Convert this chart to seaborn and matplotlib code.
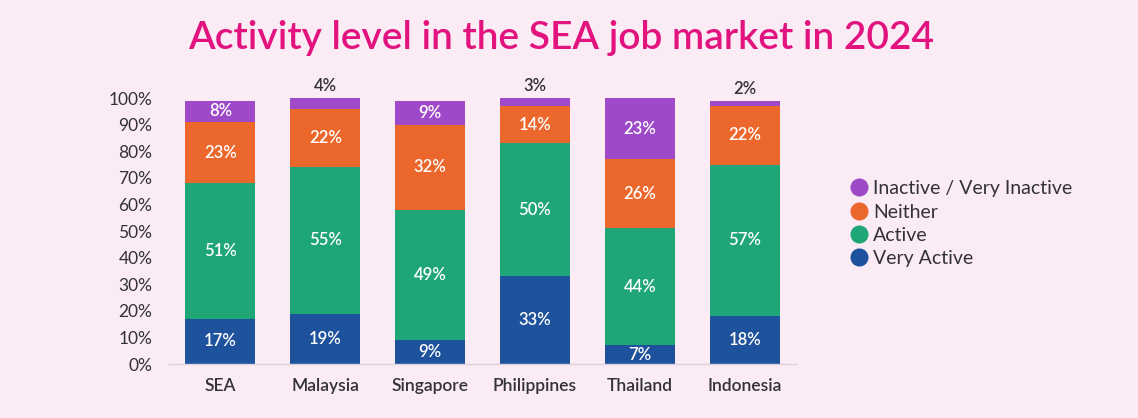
import matplotlib
matplotlib.use("Agg")
import matplotlib.pyplot as plt
from matplotlib.lines import Line2D
import seaborn as sns
import pandas as pd
import numpy as np

countries = ["SEA", "Malaysia", "Singapore", "Philippines", "Thailand", "Indonesia"]
very_active = [17, 19, 9, 33, 7, 18]
active = [51, 55, 49, 50, 44, 57]
neither = [23, 22, 32, 14, 26, 22]
inactive = [8, 4, 9, 3, 23, 2]
yticks = [0, 10, 20, 30, 40, 50, 60, 70, 80, 90, 100]

series = [("Very Active", very_active, "#1E529C"),
          ("Active", active, "#1FA676"),
          ("Neither", neither, "#EC672C"),
          ("Inactive / Very Inactive", inactive, "#9E4AC8")]

bg = "#FAEBF5"
sns.set_theme(style="white")
plt.rcParams["font.family"] = ["Lato", "DejaVu Sans"]

fig = plt.figure(figsize=(11.38, 4.18), dpi=100, facecolor=bg)
ax = fig.add_axes([0.1485, 0.129, 0.551, 0.649])
ax.set_facecolor(bg)

cum = np.zeros(len(countries))
cums = []
for name, vals, col in series:
    bottom = cum.copy()
    cum = cum + np.array(vals)
    cums.append((name, vals, col, bottom, cum.copy()))

# draw from tallest cumulative down so that stacked look results
for name, vals, col, bottom, top in reversed(cums):
    d = pd.DataFrame({"country": countries, "v": top})
    sns.barplot(data=d, x="country", y="v", color=col, width=0.667,
                saturation=1, ax=ax, order=countries, errorbar=None,
                linewidth=0, edgecolor="none")

for name, vals, col, bottom, top in cums:
    for i, (v, b, t) in enumerate(zip(vals, bottom, top)):
        if v >= 5:
            ax.text(i, (b + t) / 2, f"{v}%", ha="center", va="center",
                    color="white", fontsize=12, fontweight="semibold")
        else:
            ax.text(i, t + 1.5, f"{v}%", ha="center", va="bottom",
                    color="#333333", fontsize=12, fontweight="semibold")

ax.set_xlim(-0.49, 5.49)
ax.set_ylim(0, 102)
ax.set_yticks(yticks)
ax.set_yticklabels([f"{t}%" for t in yticks])
ax.set_xlabel("")
ax.set_ylabel("")
for s in ["top", "right", "left"]:
    ax.spines[s].set_visible(False)
ax.spines["bottom"].set_color("#D9D3DA")
ax.spines["bottom"].set_linewidth(1)
ax.tick_params(axis="y", length=0, labelsize=12.5, labelcolor="#333333", pad=12)
ax.tick_params(axis="x", length=0, labelsize=12.5, labelcolor="#333333", pad=10)
for lab in ax.get_yticklabels():
    lab.set_ha("right")
for lab in ax.get_xticklabels():
    lab.set_fontweight("semibold")

fig.text(0.493, 0.91, "Activity level in the SEA job market in 2024", ha="center",
         va="center", color="#E2137F", fontsize=28, fontweight="semibold")

handles = [Line2D([0], [0], marker="o", linestyle="", markersize=12,
                  markerfacecolor=col, markeredgecolor=col, label=name)
           for name, vals, col, b, t in reversed(cums)]
fig.legend(handles=handles, loc="center left", bbox_to_anchor=(0.738, 0.465),
           frameon=False, fontsize=14, handletextpad=0.1, labelspacing=0.32,
           borderaxespad=0, labelcolor="#333333", handlelength=1.2)

fig.savefig("out.png", dpi=100, facecolor=bg)
